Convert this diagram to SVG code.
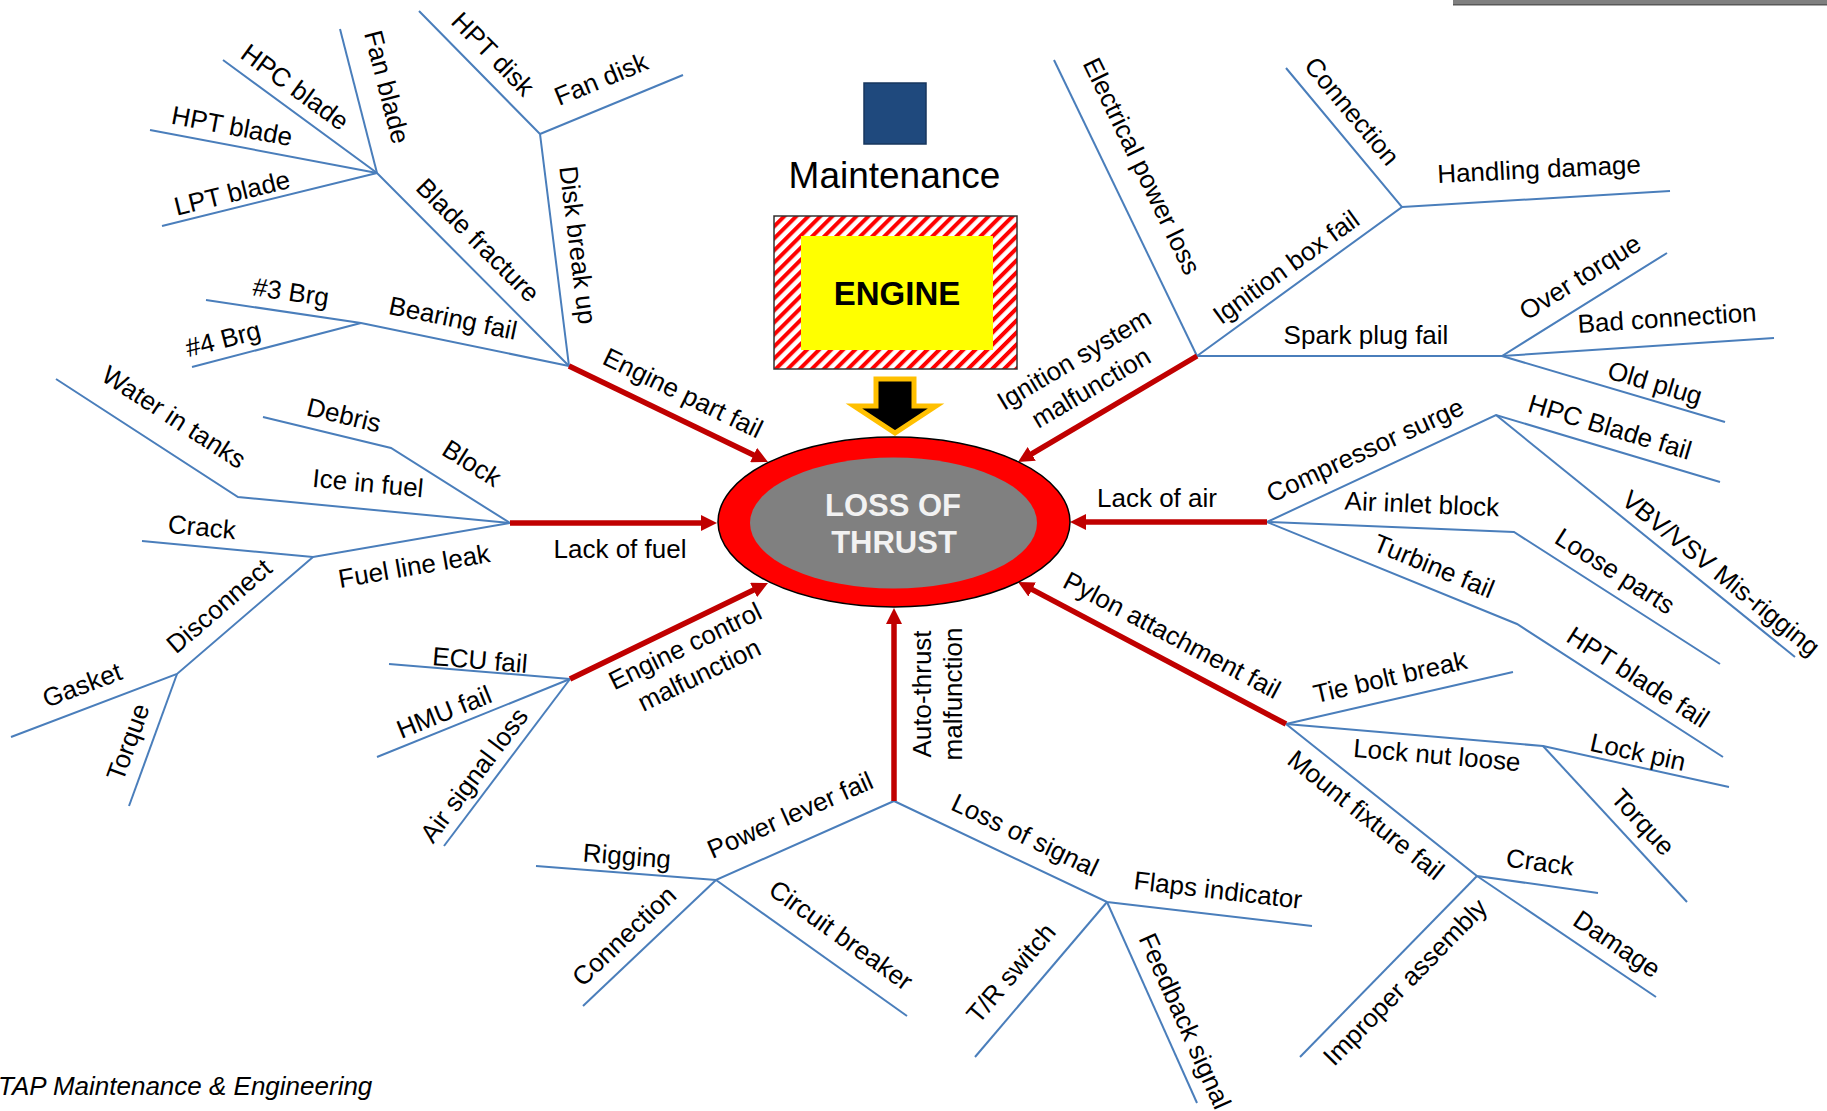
<svg xmlns="http://www.w3.org/2000/svg" width="1827" height="1111" viewBox="0 0 1827 1111">
<style>
text{font-family:"Liberation Sans",Arial,sans-serif;fill:#000}
.l{font-size:26px;text-anchor:middle;dominant-baseline:central}
.b{fill:none;stroke:#4A7EBB;stroke-width:2;stroke-linejoin:miter}
.r{fill:none;stroke:#C00000;stroke-width:5.5}
</style>
<defs>
<pattern id="hatch" patternUnits="userSpaceOnUse" width="8.5" height="8.5" patternTransform="rotate(45)">
<rect width="8.5" height="8.5" fill="#fff"/>
<rect width="4" height="8.5" fill="#FF0000"/>
</pattern>
<marker id="ah" markerUnits="userSpaceOnUse" markerWidth="17" markerHeight="16" refX="4" refY="8" orient="auto">
<path d="M0,0 L16,8 L0,16 z" fill="#C00000"/>
</marker>
</defs>
<rect width="1827" height="1111" fill="#fff"/>
<rect x="1453" y="0" width="374" height="5" fill="#808080"/>
<rect x="1453" y="4" width="374" height="1.5" fill="#595959"/>

<g id="connectors">
<!-- Engine part fail branch -->
<polyline class="b" points="569,366 377,173 223,60"/>
<polyline class="b" points="377,173 340,29"/>
<polyline class="b" points="377,173 150,130"/>
<polyline class="b" points="377,173 162,226"/>
<polyline class="b" points="569,366 361,323 206,300"/>
<polyline class="b" points="361,323 192,367"/>
<polyline class="b" points="569,366 540,134 419,11"/>
<polyline class="b" points="540,134 683,75"/>
<!-- Fuel branch -->
<polyline class="b" points="510,523 238,497 56,379"/>
<polyline class="b" points="510,523 391,448 263,417"/>
<polyline class="b" points="510,523 313,557 142,541"/>
<polyline class="b" points="313,557 177,674 11,737"/>
<polyline class="b" points="177,674 129,806"/>
<!-- Engine control branch -->
<polyline class="b" points="570,679 389,664"/>
<polyline class="b" points="570,679 377,757"/>
<polyline class="b" points="570,679 444,846"/>
<!-- Auto-thrust branch -->
<polyline class="b" points="894,801 716,880 536,866"/>
<polyline class="b" points="716,880 583,1006"/>
<polyline class="b" points="716,880 907,1016"/>
<polyline class="b" points="894,801 1107,902 1312,926"/>
<polyline class="b" points="1107,902 975,1057"/>
<polyline class="b" points="1107,902 1197,1103"/>
<!-- Pylon branch -->
<polyline class="b" points="1286,724 1513,672"/>
<polyline class="b" points="1286,724 1543,746 1729,787"/>
<polyline class="b" points="1543,746 1687,902"/>
<polyline class="b" points="1286,724 1477,876 1598,893"/>
<polyline class="b" points="1477,876 1656,997"/>
<polyline class="b" points="1477,876 1300,1057"/>
<!-- Air branch -->
<polyline class="b" points="1267,522 1496,415 1720,482"/>
<polyline class="b" points="1496,415 1795,657"/>
<polyline class="b" points="1267,522 1514,532 1720,664"/>
<polyline class="b" points="1267,522 1517,624 1723,757"/>
<!-- Ignition branch -->
<polyline class="b" points="1197,356 1054,60"/>
<polyline class="b" points="1197,356 1402,207 1286,68"/>
<polyline class="b" points="1402,207 1670,191"/>
<polyline class="b" points="1197,356 1502,356 1667,253"/>
<polyline class="b" points="1502,356 1774,338"/>
<polyline class="b" points="1502,356 1725,422"/>
<!-- Red arrows -->
<line class="r" x1="569" y1="366" x2="757.2" y2="456.8" marker-end="url(#ah)"/>
<line class="r" x1="510" y1="523" x2="705" y2="523" marker-end="url(#ah)"/>
<line class="r" x1="570" y1="679" x2="757.2" y2="588.2" marker-end="url(#ah)"/>
<line class="r" x1="894" y1="801" x2="894" y2="620" marker-end="url(#ah)"/>
<line class="r" x1="1286" y1="724" x2="1028.6" y2="587.6" marker-end="url(#ah)"/>
<line class="r" x1="1267" y1="522" x2="1082" y2="522" marker-end="url(#ah)"/>
<line class="r" x1="1197" y1="356" x2="1028.3" y2="455.9" marker-end="url(#ah)"/>
</g>

<g id="maintenance">
<rect x="864" y="83" width="62" height="61" fill="#1F497D" stroke="#17365D" stroke-width="1.5"/>
<text x="894.5" y="188" font-size="37" text-anchor="middle">Maintenance</text>
</g>
<g id="engine">
<rect x="774" y="216" width="243" height="153" fill="url(#hatch)" stroke="#333" stroke-width="1.5"/>
<rect x="801" y="236" width="192" height="114" fill="#FFFF00"/>
<text x="897" y="305" font-size="33" font-weight="bold" text-anchor="middle">ENGINE</text>
</g>
<g id="down-arrow">
<polygon points="876,379 914,379 914,406 936,406 895,433 854,406 876,406" fill="#000" stroke="#FFC000" stroke-width="5"/>
</g>
<g id="loss-of-thrust">
<ellipse cx="894" cy="522" rx="176" ry="85" fill="#FF0000" stroke="#000" stroke-width="1.5"/>
<ellipse cx="893.5" cy="523" rx="143.5" ry="65.5" fill="#808080"/>
<text x="893" y="516" font-size="31" font-weight="bold" text-anchor="middle" style="fill:#F2F2F2">LOSS OF</text>
<text x="894" y="553" font-size="31" font-weight="bold" text-anchor="middle" style="fill:#F2F2F2">THRUST</text>
</g>

<g id="engine-part-fail"><text class="l" transform="translate(683,393) rotate(25.8)">Engine part fail</text></g>
<g id="blade-fracture"><text class="l" transform="translate(478,240) rotate(45.2)">Blade fracture</text></g>
<g id="hpc-blade"><text class="l" transform="translate(295,87) rotate(36.3)">HPC blade</text></g>
<g id="fan-blade"><text class="l" transform="translate(387,87) rotate(75.6)">Fan blade</text></g>
<g id="hpt-blade"><text class="l" transform="translate(232,126) rotate(10.7)">HPT blade</text></g>
<g id="lpt-blade"><text class="l" transform="translate(232,193) rotate(-13.8)">LPT blade</text></g>
<g id="bearing-fail"><text class="l" transform="translate(453,318) rotate(11.7)">Bearing fail</text></g>
<g id="brg3"><text class="l" transform="translate(291,292) rotate(8.4)">#3 Brg</text></g>
<g id="brg4"><text class="l" transform="translate(223,339) rotate(-14.6)">#4 Brg</text></g>
<g id="disk-break-up"><text class="l" transform="translate(578,245) rotate(82.9)">Disk break up</text></g>
<g id="hpt-disk"><text class="l" transform="translate(493,54) rotate(45.5)">HPT disk</text></g>
<g id="fan-disk"><text class="l" transform="translate(601,79) rotate(-22.4)">Fan disk</text></g>

<g id="lack-of-fuel"><text class="l" x="620" y="549">Lack of fuel</text></g>
<g id="water-in-tanks"><text class="l" transform="translate(174,417) rotate(33)">Water in tanks</text></g>
<g id="debris"><text class="l" transform="translate(344,415) rotate(13.6)">Debris</text></g>
<g id="block"><text class="l" transform="translate(472,463) rotate(32.2)">Block</text></g>
<g id="ice-in-fuel"><text class="l" transform="translate(368,483) rotate(5.5)">Ice in fuel</text></g>
<g id="crack-fuel"><text class="l" transform="translate(202,527) rotate(5.3)">Crack</text></g>
<g id="fuel-line-leak"><text class="l" transform="translate(414,566) rotate(-9.8)">Fuel line leak</text></g>
<g id="disconnect"><text class="l" transform="translate(219,606) rotate(-40.7)">Disconnect</text></g>
<g id="gasket"><text class="l" transform="translate(82,685) rotate(-20.8)">Gasket</text></g>
<g id="torque-fuel"><text class="l" transform="translate(128,742) rotate(-70)">Torque</text></g>

<g id="engine-control"><text class="l" transform="translate(685,646) rotate(-26)"><tspan x="0" y="0">Engine control</tspan><tspan x="0" y="32">malfunction</tspan></text></g>
<g id="ecu-fail"><text class="l" transform="translate(480,660) rotate(4.7)">ECU fail</text></g>
<g id="hmu-fail"><text class="l" transform="translate(444,712) rotate(-22)">HMU fail</text></g>
<g id="air-signal-loss"><text class="l" transform="translate(474,775) rotate(-53)">Air signal loss</text></g>

<g id="auto-thrust"><text class="l" transform="translate(937,694) rotate(-90)"><tspan x="0" y="-15.5">Auto-thrust</tspan><tspan x="0" y="15.5">malfunction</tspan></text></g>
<g id="power-lever-fail"><text class="l" transform="translate(790,815) rotate(-23.8)">Power lever fail</text></g>
<g id="rigging"><text class="l" transform="translate(627,856) rotate(4.4)">Rigging</text></g>
<g id="connection-bottom"><text class="l" transform="translate(624,936) rotate(-43.5)">Connection</text></g>
<g id="circuit-breaker"><text class="l" transform="translate(841,935) rotate(35.5)">Circuit breaker</text></g>
<g id="loss-of-signal"><text class="l" transform="translate(1025,835) rotate(25.5)">Loss of signal</text></g>
<g id="flaps-indicator"><text class="l" transform="translate(1218,890) rotate(6.7)">Flaps indicator</text></g>
<g id="tr-switch"><text class="l" transform="translate(1011,973) rotate(-49.6)">T/R switch</text></g>
<g id="feedback-signal"><text class="l" transform="translate(1185,1021) rotate(65.9)">Feedback signal</text></g>

<g id="pylon-attachment-fail"><text class="l" transform="translate(1172,635) rotate(27.9)">Pylon attachment fail</text></g>
<g id="tie-bolt-break"><text class="l" transform="translate(1390,677) rotate(-12.9)">Tie bolt break</text></g>
<g id="lock-nut-loose"><text class="l" transform="translate(1437,755) rotate(4.9)">Lock nut loose</text></g>
<g id="lock-pin"><text class="l" transform="translate(1638,752) rotate(12.4)">Lock pin</text></g>
<g id="torque-pylon"><text class="l" transform="translate(1643,822) rotate(47.3)">Torque</text></g>
<g id="mount-fixture-fail"><text class="l" transform="translate(1366,815) rotate(38.5)">Mount fixture fail</text></g>
<g id="crack-pylon"><text class="l" transform="translate(1540,862) rotate(8)">Crack</text></g>
<g id="damage"><text class="l" transform="translate(1617,944) rotate(34)">Damage</text></g>
<g id="improper-assembly"><text class="l" transform="translate(1405,982) rotate(-45.6)">Improper assembly</text></g>

<g id="lack-of-air"><text class="l" x="1157" y="498">Lack of air</text></g>
<g id="compressor-surge"><text class="l" transform="translate(1365,450) rotate(-24.8)">Compressor surge</text></g>
<g id="air-inlet-block"><text class="l" transform="translate(1422,504) rotate(2.5)">Air inlet block</text></g>
<g id="turbine-fail"><text class="l" transform="translate(1434,566) rotate(22.4)">Turbine fail</text></g>
<g id="hpc-blade-fail"><text class="l" transform="translate(1610,427) rotate(16.7)">HPC Blade fail</text></g>
<g id="vbv-vsv"><text class="l" transform="translate(1721,573) rotate(39)">VBV/VSV Mis-rigging</text></g>
<g id="loose-parts"><text class="l" transform="translate(1615,571) rotate(32.6)">Loose parts</text></g>
<g id="hpt-blade-fail"><text class="l" transform="translate(1638,677) rotate(32.8)">HPT blade fail</text></g>

<g id="ignition-system"><text class="l" transform="translate(1074,359) rotate(-30.6)"><tspan x="0" y="0">Ignition system</tspan><tspan x="0" y="33">malfunction</tspan></text></g>
<g id="electrical-power-loss"><text class="l" transform="translate(1142,166) rotate(64.2)">Electrical power loss</text></g>
<g id="ignition-box-fail"><text class="l" transform="translate(1286,267) rotate(-36)">Ignition box fail</text></g>
<g id="connection-top"><text class="l" transform="translate(1352,111) rotate(50.2)">Connection</text></g>
<g id="handling-damage"><text class="l" transform="translate(1539,169) rotate(-2.8)">Handling damage</text></g>
<g id="spark-plug-fail"><text class="l" x="1366" y="335">Spark plug fail</text></g>
<g id="over-torque"><text class="l" transform="translate(1580,277) rotate(-32)">Over torque</text></g>
<g id="bad-connection"><text class="l" transform="translate(1667,318) rotate(-3.8)">Bad connection</text></g>
<g id="old-plug"><text class="l" transform="translate(1655,383) rotate(16.5)">Old plug</text></g>

<g id="footer"><text x="-2" y="1095" font-size="26" font-style="italic">TAP Maintenance &amp; Engineering</text></g>
</svg>
